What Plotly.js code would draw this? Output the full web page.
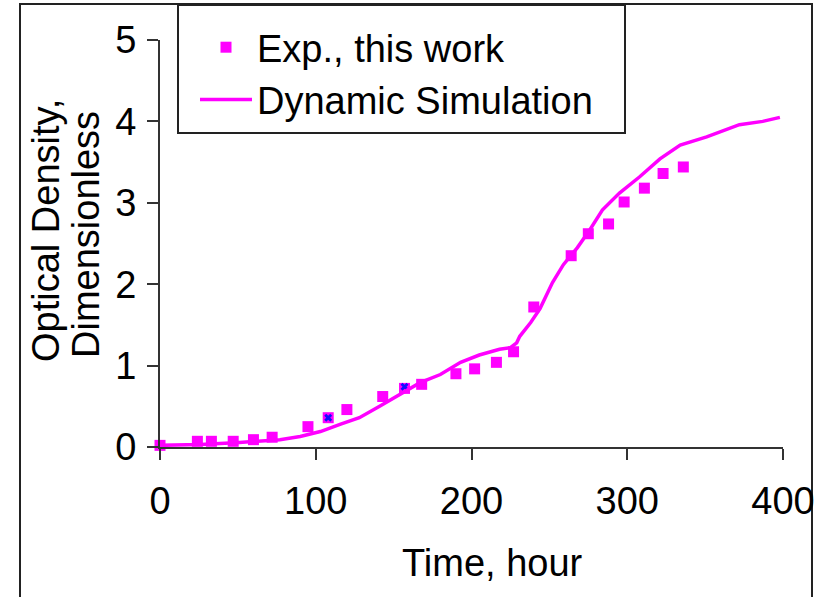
<!DOCTYPE html>
<html>
<head>
<meta charset="utf-8">
<script src="https://cdn.plot.ly/plotly-3.0.1.min.js"></script>
<style>
  html, body { margin: 0; padding: 0; background: #fff; }
  #chart { width: 832px; height: 597px; }
</style>
</head>
<body>
<div id="chart"></div>
<script>
// Experimental optical density readings
const timeExp = [0, 24, 33, 47, 60, 72, 95, 108, 120, 143, 157, 168, 190, 202, 216, 227, 240, 264, 275, 288, 298, 311, 323, 336];
const odExp   = [0.02, 0.07, 0.07, 0.07, 0.09, 0.12, 0.25, 0.36, 0.46, 0.62, 0.72, 0.77, 0.90, 0.96, 1.04, 1.17, 1.72, 2.35, 2.62, 2.74, 3.01, 3.18, 3.36, 3.44];

// Replicate readings plotted as blue crosses
const timeRep = [108, 157];
const odRep   = [0.36, 0.74];

// Dynamic simulation curve
const timeSim = [0, 26, 51, 77, 90, 103, 116, 128, 141, 154, 167, 180, 193, 205, 218, 225, 229, 231, 238, 244, 252, 259, 268, 276, 284, 295, 308, 321, 334, 351, 372, 387, 398];
const odSim   = [0.02, 0.03, 0.055, 0.09, 0.13, 0.19, 0.28, 0.36, 0.50, 0.64, 0.79, 0.89, 1.04, 1.13, 1.20, 1.22, 1.28, 1.36, 1.53, 1.70, 2.02, 2.24, 2.45, 2.67, 2.91, 3.12, 3.32, 3.54, 3.71, 3.81, 3.96, 4.00, 4.05];

// Axis ticks
const xTicks = [0, 100, 200, 300, 400];
const yTicks = [0, 1, 2, 3, 4, 5];

const FONT = 'Liberation Sans, Arial, sans-serif';
const FS = 38;
const MAGENTA = '#ff00ff';
const AXIS = '#333333';

const traces = [
  {
    x: timeExp, y: odExp, name: 'Exp., this work',
    type: 'scatter', mode: 'markers', cliponaxis: false,
    marker: { symbol: 'square', size: 11, color: MAGENTA }
  },
  {
    x: timeRep, y: odRep, name: 'Replicate', showlegend: false,
    type: 'scatter', mode: 'markers', cliponaxis: false,
    marker: { symbol: 'x', size: 7, color: '#1010ff' }
  },
  {
    x: timeSim, y: odSim, name: 'Dynamic Simulation',
    type: 'scatter', mode: 'lines', cliponaxis: false,
    line: { color: MAGENTA, width: 3.5 }
  }
];

// plot area geometry in pixels
const L = 160, R = 49, T = 40, B = 150;
const W = 832, H = 597;
const pw = W - L - R, ph = H - T - B;
const px = v => (v - L) / pw;
const py = v => (H - B - v) / ph;

const layout = {
  width: W, height: H,
  margin: { l: L, r: R, t: T, b: B, autoexpand: false },
  paper_bgcolor: '#ffffff',
  plot_bgcolor: '#ffffff',
  font: { family: FONT, size: FS, color: '#000' },
  showlegend: true,
  legend: {
    x: px(195), y: py(16), xanchor: 'left', yanchor: 'top',
    bgcolor: 'rgba(0,0,0,0)', borderwidth: 0,
    font: { family: FONT, size: FS, color: '#000' },
    traceorder: 'normal', itemwidth: 52
  },
  xaxis: {
    range: [0, 400], tickvals: xTicks, ticktext: xTicks.map(String),
    showgrid: false, zeroline: false,
    showline: true, linecolor: AXIS, linewidth: 2,
    ticks: 'outside', ticklen: 11, tickwidth: 2, tickcolor: AXIS,
    tickfont: { family: FONT, size: FS, color: '#000' },
    ticklabelstandoff: 8, fixedrange: true
  },
  yaxis: {
    range: [0, 5], tickvals: yTicks, ticktext: yTicks.map(String),
    showgrid: false, zeroline: false,
    showline: true, linecolor: AXIS, linewidth: 2,
    ticks: 'outside', ticklen: 11, tickwidth: 2, tickcolor: AXIS,
    tickfont: { family: FONT, size: FS, color: '#000' },
    ticklabelstandoff: 3, fixedrange: true
  },
  shapes: [
    // outer frame
    { type: 'rect', xref: 'paper', yref: 'paper',
      x0: px(20), x1: px(812), y0: py(610), y1: py(4),
      line: { color: '#222', width: 2 }, fillcolor: 'rgba(0,0,0,0)', layer: 'below' },
    // legend box
    { type: 'rect', xref: 'paper', yref: 'paper',
      x0: px(178), x1: px(625), y0: py(133), y1: py(5),
      line: { color: '#222', width: 2 }, fillcolor: '#ffffff', layer: 'below' }
  ],
  annotations: [
    { text: 'Time, hour', xref: 'paper', yref: 'paper',
      x: px(492), y: py(563), xanchor: 'center', yanchor: 'middle',
      showarrow: false, font: { family: FONT, size: FS, color: '#000' } },
    { text: 'Optical Density,', xref: 'paper', yref: 'paper', textangle: -90,
      x: px(46), y: py(231), xanchor: 'center', yanchor: 'middle',
      showarrow: false, font: { family: FONT, size: FS, color: '#000' } },
    { text: 'Dimensionless', xref: 'paper', yref: 'paper', textangle: -90,
      x: px(86), y: py(235), xanchor: 'center', yanchor: 'middle',
      showarrow: false, font: { family: FONT, size: FS, color: '#000' } }
  ]
};

Plotly.newPlot('chart', traces, layout, { staticPlot: true, displayModeBar: false });
</script>
</body>
</html>
